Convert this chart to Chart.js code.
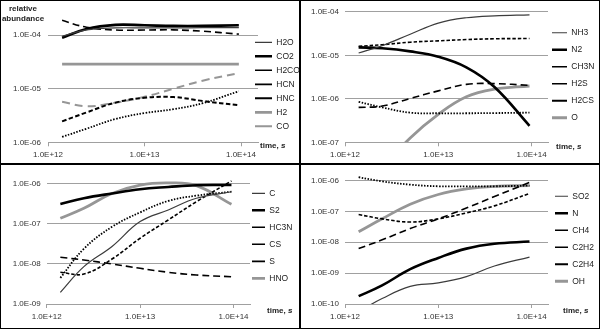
<!DOCTYPE html>
<html>
<head>
<meta charset="utf-8">
<script src="https://cdn.jsdelivr.net/npm/chart.js@4.4.0/dist/chart.umd.min.js"></script>
<style>
  body { margin: 0; background: #fff; }
  #wrap { position: relative; width: 600px; height: 329px; background: #fff; }
  .cell { position: absolute; border: 1px solid #000; box-sizing: border-box; }
  .cell canvas { position: absolute; left: 0; top: 0; }
</style>
</head>
<body>
<div id="wrap">
  <div class="cell" style="left:0;top:0;width:300px;height:164px"><canvas id="c1" width="298" height="162"></canvas></div>
  <div class="cell" style="left:300px;top:0;width:300px;height:164px"><canvas id="c2" width="298" height="162"></canvas></div>
  <div class="cell" style="left:0;top:164px;width:300px;height:165px"><canvas id="c3" width="298" height="163"></canvas></div>
  <div class="cell" style="left:300px;top:164px;width:300px;height:165px"><canvas id="c4" width="298" height="163"></canvas></div>
</div>
<script>
// time points (s), shared by all four panels
var times = [1.4e12, 2.5e12, 5e12, 1e13, 2e13, 4e13, 9.5e13];
var xTicks = [1e12, 1e13, 1e14];

// panel 1
var names1 = ['H2O', 'CO2', 'H2CO', 'HCN', 'HNC', 'H2', 'CO'];
var H2O  = [9.5e-5, 1.25e-4, 1.36e-4, 1.36e-4, 1.36e-4, 1.37e-4, 1.38e-4];
var CO2  = [8.9e-5, 1.3e-4, 1.55e-4, 1.52e-4, 1.48e-4, 1.48e-4, 1.52e-4];
var H2CO = [1.88e-4, 1.4e-4, 1.24e-4, 1.24e-4, 1.25e-4, 1.18e-4, 1.04e-4];
var HCN  = [1.26e-6, 1.79e-6, 2.72e-6, 3.5e-6, 4.15e-6, 5.35e-6, 8.97e-6];
var HNC  = [2.46e-6, 3.6e-6, 5.5e-6, 6.76e-6, 6.97e-6, 5.89e-6, 4.91e-6];
var H2   = [2.88e-5, 2.88e-5, 2.88e-5, 2.88e-5, 2.88e-5, 2.88e-5, 2.88e-5];
var CO   = [5.7e-6, 4.7e-6, 5.48e-6, 7.05e-6, 1.0e-5, 1.41e-5, 1.94e-5];
var yTicks1 = [1e-6, 1e-5, 1e-4];

// panel 2
var names2 = ['NH3', 'N2', 'CH3N', 'H2S', 'H2CS', 'O'];
var NH3  = [1.13e-5, 1.66e-5, 3.05e-5, 5.5e-5, 7.3e-5, 8.1e-5, 8.5e-5];
var N2   = [1.52e-5, 1.45e-5, 1.23e-5, 9.3e-6, 5.3e-6, 1.87e-6, 2.4e-7];
var CH3N = [6.35e-7, 6.8e-7, 1.02e-6, 1.52e-6, 2.15e-6, 2.23e-6, 2.04e-6];
var H2S  = [1.6e-5, 1.75e-5, 2.0e-5, 2.15e-5, 2.3e-5, 2.4e-5, 2.43e-5];
var H2CS = [8.5e-7, 6.35e-7, 4.8e-7, 4.65e-7, 4.65e-7, 4.7e-7, 4.8e-7];
var O    = [5e-9, 2.5e-8, 1.26e-7, 4.4e-7, 1.11e-6, 1.66e-6, 1.97e-6];
var yTicks2 = [1e-7, 1e-6, 1e-5, 1e-4];

// panel 3
var names3 = ['C', 'S2', 'HC3N', 'CS', 'S', 'HNO'];
var C    = [1.96e-9, 8.6e-9, 2.75e-8, 1.15e-7, 2.24e-7, 4.4e-7, 6.4e-7];
var S2   = [3.16e-7, 4.4e-7, 5.8e-7, 7.4e-7, 8.4e-7, 9.3e-7, 9.4e-7];
var HC3N = [1.47e-8, 1.26e-8, 1e-8, 7.8e-9, 6.2e-9, 5.3e-9, 4.8e-9];
var CS   = [6.2e-9, 5.6e-9, 1.33e-8, 4.4e-8, 1.26e-7, 3.6e-7, 1.19e-6];
var S    = [4.5e-9, 2.4e-8, 8.5e-8, 1.95e-7, 3.76e-7, 5.1e-7, 6.4e-7];
var HNO  = [1.39e-7, 2.46e-7, 5.8e-7, 9.4e-7, 1.06e-6, 9.1e-7, 3.1e-7];
var yTicks3 = [1e-9, 1e-8, 1e-7, 1e-6];

// panel 4
var names4 = ['SO2', 'N', 'CH4', 'C2H2', 'C2H4', 'OH'];
var SO2  = [5.7e-11, 1.5e-10, 3.7e-10, 4.8e-10, 7.7e-10, 1.7e-9, 3.3e-9];
var N    = [1.79e-10, 4e-10, 1.34e-9, 3.1e-9, 6.2e-9, 8.9e-9, 1.05e-8];
var CH4  = [6.2e-9, 1.19e-8, 2.77e-8, 5.7e-8, 1.27e-7, 3e-7, 8.6e-7];
var C2H2 = [7.85e-8, 5.7e-8, 4.5e-8, 5.7e-8, 8.9e-8, 1.5e-7, 3.8e-7];
var C2H4 = [1.27e-6, 9.3e-7, 7.3e-7, 6.45e-7, 6.45e-7, 6.45e-7, 6.8e-7];
var OH   = [2.17e-8, 5.7e-8, 1.7e-7, 3.5e-7, 5.3e-7, 6.45e-7, 6.8e-7];
var yTicks4 = [1e-10, 1e-9, 1e-8, 1e-7, 1e-6];

// line looks, same order in every panel
var thin   = { color: '#3c3c3c', width: 1.2, dash: [] };
var thick  = { color: '#000', width: 2.6, dash: [] };
var longD  = { color: '#000', width: 1.6, dash: [7, 4] };
var shortD = { color: '#000', width: 1.6, dash: [3.5, 2] };
var dotted = { color: '#000', width: 1.8, dash: [1.5, 1.5] };
var grey   = { color: '#969696', width: 2.8, dash: [] };
var greyD  = { color: '#969696', width: 2, dash: [8, 5] };
var hncD   = { color: '#000', width: 2, dash: [4.5, 2.5] };

var FONT = '"Liberation Sans", Arial, sans-serif';
Chart.defaults.font.family = FONT;

function expLabel(v) {
  var e = Math.round(Math.log10(v));
  return '1.0E' + (e < 0 ? '-' : '+') + String(Math.abs(e)).padStart(2, '0');
}

// move the legend box after layout so it sits where the original has it
// (and widen its clip box so the names are not cut)
var legendShift = {
  id: 'legendShift',
  afterLayout: function (chart, args, opts) {
    var lg = chart.legend;
    if (!lg) return;
    lg.left += opts.dx;
    lg.right = chart.width;
    lg.top += opts.dy; lg.bottom += opts.dy;
  }
};

// "time, s" and the y title
var notes = {
  id: 'notes',
  afterDraw: function (chart, args, opts) {
    var ctx = chart.ctx, a = chart.chartArea;
    ctx.save();
    ctx.fillStyle = '#222';
    ctx.textBaseline = 'middle';
    ctx.textAlign = 'left';
    ctx.font = 'bold 8px ' + FONT;
    var x = a.right + opts.dx, y = a.bottom + opts.dy;
    ctx.fillText('time, ', x, y);
    var w = ctx.measureText('time, ').width;
    ctx.font = 'italic bold 8px ' + FONT;
    ctx.fillText('s', x + w, y);
    if (opts.yTitle) {
      ctx.textAlign = 'center';
      ctx.font = 'bold 8px ' + FONT;
      ctx.fillText('relative', 22, 7.5);
      ctx.fillText('abundance', 22, 17.5);
    }
    ctx.restore();
  }
};

function makeChart(id, p) {
  var canvas = document.getElementById(id);
  var W = canvas.width, H = canvas.height;
  var datasets = p.names.map(function (name, i) {
    var st = p.styles[i];
    return {
      label: name,
      data: times.map(function (t, j) { return { x: t, y: p.series[i][j] }; }),
      borderColor: st.color,
      backgroundColor: st.color,
      borderWidth: st.width,
      borderDash: st.dash,
      pointRadius: 0,
      pointHoverRadius: 0,
      pointStyle: 'line',
      tension: 0.4,
      fill: false
    };
  });

  return new Chart(canvas, {
    type: 'line',
    data: { datasets: datasets },
    options: {
      responsive: false,
      animation: false,
      events: [],
      layout: { padding: { left: 0, top: p.top, right: 0, bottom: 0 } },
      scales: {
        x: {
          type: 'logarithmic',
          min: 1e12,
          max: 1.5e14,
          afterBuildTicks: function (s) { s.ticks = xTicks.map(function (v) { return { value: v }; }); },
          afterFit: function (s) { s.height = H - p.bottom; },
          grid: { drawOnChartArea: false, drawTicks: true, tickLength: 4, color: '#a0a0a0' },
          border: { display: true, color: '#a0a0a0', width: 1 },
          ticks: { callback: function (v) { return expLabel(v); }, font: { size: 8 }, color: '#333',
                   padding: 4, maxRotation: 0, autoSkip: false }
        },
        y: {
          type: 'logarithmic',
          min: p.ymin,
          max: p.ymax,
          afterBuildTicks: function (s) { s.ticks = p.yTicks.map(function (v) { return { value: v }; }); },
          afterFit: function (s) { s.width = p.left; },
          grid: { color: '#a0a0a0', lineWidth: 1, drawTicks: false },
          border: { display: false },
          ticks: { callback: function (v) { return expLabel(v); }, font: { size: 8 }, color: '#333',
                   padding: p.ypad, autoSkip: false }
        }
      },
      plugins: {
        tooltip: { enabled: false },
        legend: {
          position: 'right',
          maxWidth: W - p.right,
          labels: {
            usePointStyle: true,
            pointStyle: 'line',
            pointStyleWidth: p.psw,
            font: { size: 8.5 },
            color: '#222',
            padding: p.lpad
          }
        },
        legendShift: { dx: p.ldx, dy: p.ldy },
        notes: { dx: p.tdx, dy: p.tdy, yTitle: !!p.yTitle }
      }
    },
    plugins: [legendShift, notes]
  });
}

makeChart('c1', {
  names: names1, series: [H2O, CO2, H2CO, HCN, HNC, H2, CO],
  styles: [thin, thick, longD, dotted, hncD, grey, greyD],
  ymin: 1e-6, ymax: 2.6e-4, yTicks: yTicks1,
  left: 47, right: 257, top: 9, bottom: 141.3, ypad: 7,
  psw: 17, lpad: 5.5, ldx: -8.5, ldy: -2.2, tdx: 2, tdy: 3.3, yTitle: true
});

makeChart('c2', {
  names: names2, series: [NH3, N2, CH3N, H2S, H2CS, O],
  styles: [thin, thick, longD, shortD, dotted, grey],
  ymin: 1e-7, ymax: 1e-4, yTicks: yTicks2,
  left: 44, right: 247, top: 9.7, bottom: 141.3, ypad: 6,
  psw: 15, lpad: 8.5, ldx: -4.5, ldy: -11.6, tdx: 8, tdy: 4.4
});

makeChart('c3', {
  names: names3, series: [C, S2, HC3N, CS, S, HNO],
  styles: [thin, thick, longD, shortD, dotted, grey],
  ymin: 1e-9, ymax: 1.41e-6, yTicks: yTicks3,
  left: 45.7, right: 249, top: 13, bottom: 139, ypad: 6,
  psw: 13, lpad: 8.5, ldx: -6.5, ldy: -17.2, tdx: 17, tdy: 6.7
});

makeChart('c4', {
  names: names4, series: [SO2, N, CH4, C2H2, C2H4, OH],
  styles: [thin, thick, longD, shortD, dotted, grey],
  ymin: 1e-10, ymax: 1.41e-6, yTicks: yTicks4,
  left: 44, right: 247, top: 7.5, bottom: 139, ypad: 6,
  psw: 13, lpad: 8.5, ldx: -1.5, ldy: -11.5, tdx: 15, tdy: 6.7
});
</script>
</body>
</html>
